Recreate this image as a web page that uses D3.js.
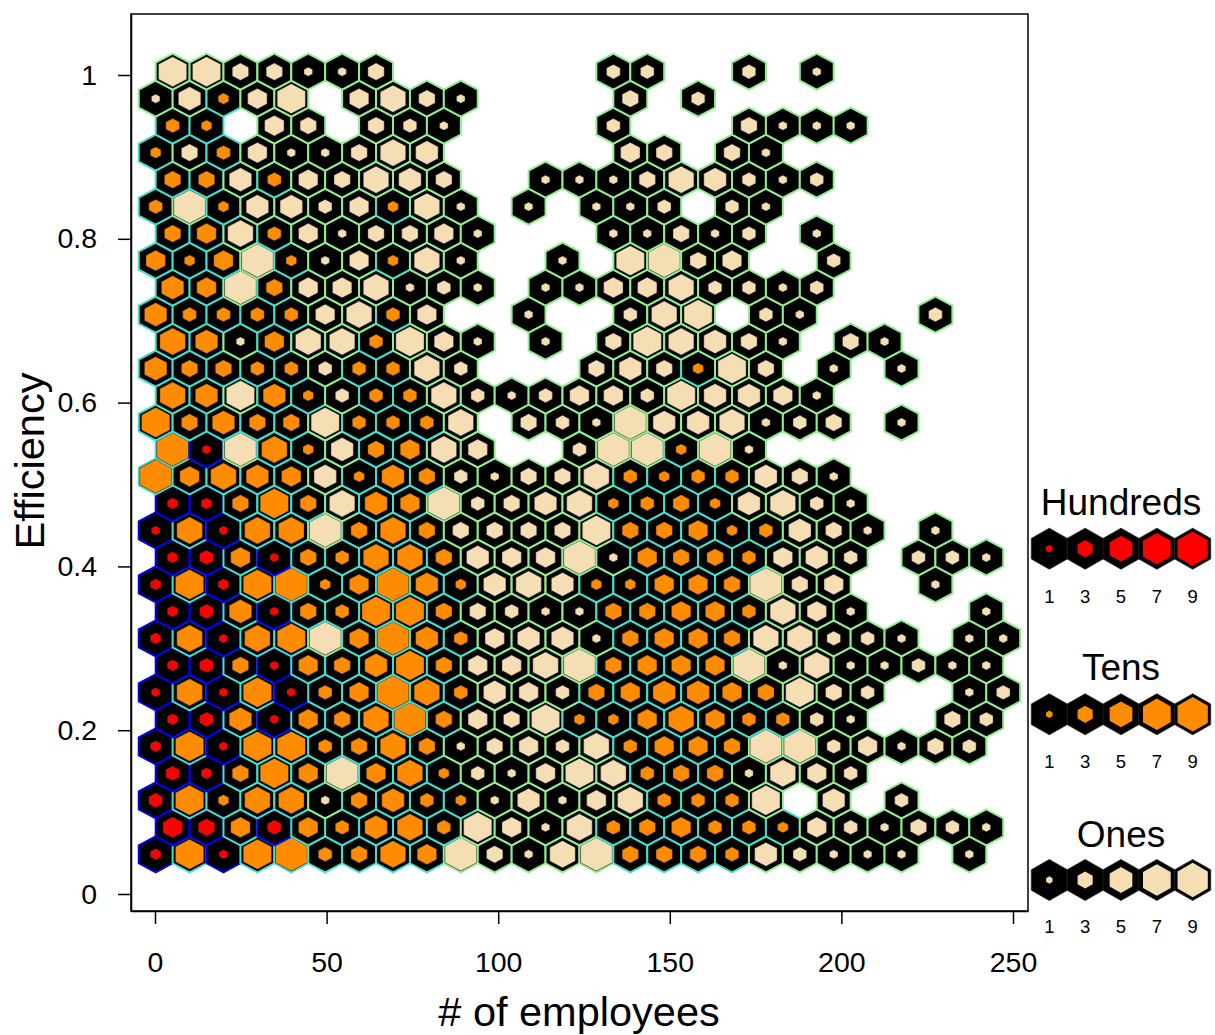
<!DOCTYPE html>
<html><head><meta charset="utf-8">
<script src="https://cdn.jsdelivr.net/npm/d3@7"></script>
<style>html,body{margin:0;padding:0;background:#fff}svg{display:block}text{font-family:"Liberation Sans",Arial,sans-serif;fill:#000}</style>
</head><body><svg id="c" width="1215" height="1035"></svg>
<script>
// Bin counts per hexagon row, bottom row first; 0 = empty bin. Only the leading digit is shown.
const row00=[200,80,100,80,90,30,40,70,50,9,4,1,7,9,40,40,40,30,6,3,1,1,1,0,1];
const row01=[500,400,50,300,50,30,60,70,30,8,5,1,7,30,40,50,30,30,20,5,3,1,4,3,1];
const row02=[300,80,20,70,70,1,40,60,30,20,1,6,1,5,7,30,30,30,8,0,6,0,3];
const row03=[300,200,40,80,50,9,50,70,20,3,1,5,8,7,30,40,40,1,7,5,3];
const row04=[200,80,100,80,80,30,40,70,40,1,4,5,3,7,30,50,50,40,9,9,3,5,1,4,3];
const row05=[200,300,60,100,50,40,70,90,40,5,4,8,20,20,50,70,50,30,30,3,1,0,0,4,3];
const row06=[100,70,100,80,100,30,50,90,70,30,6,5,3,40,50,60,60,50,40,8,4,3,0,0,1,3];
const row07=[200,300,40,100,50,40,60,80,40,5,5,7,9,40,50,50,50,9,1,7,1,1,3,1,1];
const row08=[200,70,100,70,80,9,50,90,60,30,5,6,6,1,40,50,50,40,7,7,3,3,1,0,1,1];
const row09=[200,300,60,100,40,30,80,80,40,4,3,1,1,40,40,50,50,30,7,5,1,0,0,0,1];
const row10=[200,80,200,80,90,20,50,90,60,20,6,7,6,20,20,50,50,40,9,4,5,0,0,1];
const row11=[200,300,50,100,40,30,70,70,40,6,5,5,9,1,50,40,40,30,5,6,3,0,3,3,1];
const row12=[100,70,100,70,70,9,40,70,40,4,4,4,4,8,40,40,50,20,30,6,4,1,0,1];
const row13=[200,200,40,80,40,7,60,50,9,3,4,6,7,20,30,40,20,6,7,3,1];
const row14=[90,50,70,60,50,6,20,60,40,3,1,4,4,7,30,20,30,30,6,4,1];
const row15=[90,100,9,70,20,6,40,50,7,5,0,0,3,9,9,20,9,1];
const row16=[80,40,60,40,40,8,30,30,30,7,0,4,3,1,9,6,6,7,1,3,4,0,1];
const row17=[70,60,8,60,20,3,30,30,7,3,1,3,5,5,3,8,6,6,5,1];
const row18=[60,40,40,30,30,3,30,30,7,3,0,0,0,4,6,4,20,8,4,0,1,0,1];
const row19=[70,60,1,50,7,7,30,8,5,1,0,1,0,4,8,7,6,4,1,0,4,1];
const row20=[60,30,30,30,30,5,7,30,5,0,0,1,0,0,3,7,8,0,3,1,0,0,0,3];
const row21=[60,50,9,40,5,5,7,1,3,1,0,1,1,5,5,7,3,3,1,3];
const row22=[50,20,50,9,20,1,5,20,7,1,0,0,1,0,8,9,4,5,0,0,3];
const row23=[40,50,7,30,5,1,4,4,5,1,0,0,0,1,1,4,1,3,0,1];
const row24=[30,9,20,6,6,3,5,20,7,1,0,1,0,1,1,3,0,3,1];
const row25=[40,40,6,30,5,4,7,6,4,0,0,1,1,1,4,7,6,3,1,3];
const row26=[20,4,30,5,1,1,4,7,6,0,0,0,0,0,5,4,0,4,1];
const row27=[30,20,0,5,4,0,4,3,1,0,0,0,0,3,0,0,0,4,1,1,1];
const row28=[1,6,20,5,8,0,5,7,4,1,0,0,0,0,4,0,3];
const row29=[8,8,4,4,1,1,4,0,0,0,0,0,0,3,3,0,0,3,0,1];
const rows=[row00,row01,row02,row03,row04,row05,row06,row07,row08,row09,row10,row11,row12,row13,row14,row15,row16,row17,row18,row19,row20,row21,row22,row23,row24,row25,row26,row27,row28,row29];

const xTicks=[0,50,100,150,200,250];
const yTicks=[0,0.2,0.4,0.6,0.8,1];
const legendDigits=[1,3,5,7,9];
const legendTitles=["Hundreds","Tens","Ones"];
const levelFill=["#ff0000","#ff8c00","#f5deb3"];
const levelLine=["#0000ff","#40e0d0","#90ee90"];
const plotFrac=[0,.25,.31,.40,.48,.57,.66,.75,.83,.93];
const legendFrac=[0,.18,.30,.42,.53,.63,.70,.77,.81,.84];

const svg=d3.select("#c");
const box={l:131,r:1028,t:14,b:911};
const x=d3.scaleLinear().domain([-6.993,254.37]).range([box.l,box.r]);
const y=d3.scaleLinear().domain([-0.02076,1.0745]).range([box.b,box.t]);
const binW=9.878, binH=0.03295, x0=0.2, y0=0.0485;

function hexPath(cx,cy,hw,hh){
  const p=[[0,-hh],[hw,-hh/2],[hw,hh/2],[0,hh],[-hw,hh/2],[-hw,-hh/2]];
  return "M"+p.map(d=>(cx+d[0]).toFixed(2)+","+(cy+d[1]).toFixed(2)).join("L")+"Z";
}
function parts(v){ // level index and leading digit
  if(v>=100) return {lev:0,dig:Math.floor(v/100)};
  if(v>=10) return {lev:1,dig:Math.floor(v/10)};
  return {lev:2,dig:v};
}
const cells=[];
rows.forEach((r,i)=>r.forEach((v,c)=>{ if(v>0) cells.push({i,c,v}); }));
const hw=(x(binW)-x(0))/2, hh=(y(0)-y(binH))*2/3;
const g=svg.append("g");
const cg=g.selectAll("g").data(cells).join("g");
const cxOf=d=>x(x0+binW*(d.c+(d.i%2?0.5:0)));
const cyOf=d=>y(y0+binH*d.i);
cg.append("path").attr("d",d=>hexPath(cxOf(d),cyOf(d),hw,hh))
  .attr("fill","#000").attr("stroke",d=>levelLine[parts(d.v).lev]).attr("stroke-width",2);
cg.append("path").attr("d",d=>{const f=plotFrac[parts(d.v).dig];return hexPath(cxOf(d),cyOf(d),hw*f,hh*f);})
  .attr("fill",d=>levelFill[parts(d.v).lev]).attr("stroke","#333").attr("stroke-width",0.4);

svg.append("rect").attr("x",box.l).attr("y",box.t).attr("width",box.r-box.l).attr("height",box.b-box.t)
  .attr("fill","none").attr("stroke","#000").attr("stroke-width",1.5);

const ax=svg.append("g").attr("transform",`translate(0,${box.b})`)
  .call(d3.axisBottom(x).tickValues(xTicks).tickSize(13).tickSizeOuter(0).tickPadding(28).tickFormat(d3.format("d")));
const ay=svg.append("g").attr("transform",`translate(${box.l},0)`)
  .call(d3.axisLeft(y).tickValues(yTicks).tickSize(13).tickSizeOuter(0).tickPadding(21).tickFormat(d=>String(d)));
[ax,ay].forEach(a=>{
  a.selectAll("line").attr("stroke","#000").attr("stroke-width",1.5);
  a.selectAll("path").attr("stroke","#000").attr("stroke-width",1.5);
  a.selectAll("text").style("font-size","28.5px").style("font-family",'"Liberation Sans",Arial,sans-serif');
});
svg.append("text").attr("x",579).attr("y",1026).attr("text-anchor","middle").style("font-size","41.5px").text("# of employees");
svg.append("text").attr("transform","translate(44,461) rotate(-90)").attr("text-anchor","middle").style("font-size","41.5px").text("Efficiency");

// Legend
const legX=d3.scaleLinear().domain([1,9]).range([1049.3,1192.7]);
const legHexY=[548.7,714.3,880], legTitleY=[515,680,846.7], legLabelY=[596,761.7,926.7];
legendTitles.forEach((t,k)=>{
  svg.append("text").attr("x",1121).attr("y",legTitleY[k]).attr("text-anchor","middle").style("font-size","37px").text(t);
  const lg=svg.append("g");
  lg.selectAll("path.o").data(legendDigits).join("path").attr("class","o")
    .attr("d",d=>hexPath(legX(d),legHexY[k],18,20.5)).attr("fill","#000").attr("stroke","#222").attr("stroke-width",0.8);
  lg.selectAll("path.i").data(legendDigits).join("path").attr("class","i")
    .attr("d",d=>hexPath(legX(d),legHexY[k],18*legendFrac[d],20.5*legendFrac[d])).attr("fill",levelFill[k]);
  lg.selectAll("text").data(legendDigits).join("text").attr("x",d=>legX(d)).attr("y",legLabelY[k])
    .attr("dy","0.36em").attr("text-anchor","middle").style("font-size","18.5px").text(d=>d);
});
</script></body></html>
